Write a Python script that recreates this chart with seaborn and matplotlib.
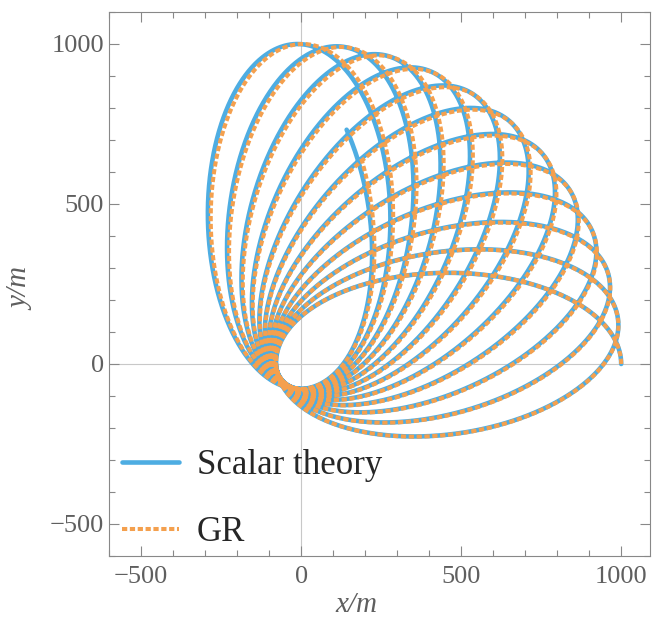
import numpy as np
import pandas as pd
import matplotlib
matplotlib.use("Agg")
import matplotlib.pyplot as plt
from matplotlib.ticker import MultipleLocator
import seaborn as sns

# orbit parameters
apo_radius = 1000.0          # m, start point (1000, 0)
peri_radius = 78.0           # m, size of the hole round the origin
precession_deg = {"Scalar theory": 8.25, "GR": 8.15}   # advance of the apoapsis per orbit
end_angle_deg = {"Scalar theory": 12 * 360 + 79.0, "GR": 12 * 360 + 73.6}

theories = ["Scalar theory", "GR"]
colors = {"Scalar theory": "#4EADE2", "GR": "#F4A04E"}

x_ticks = [-500, 0, 500, 1000]
y_ticks = [-500, 0, 500, 1000]


def orbit(name):
    p = 2 * apo_radius * peri_radius / (apo_radius + peri_radius)
    e = (apo_radius - peri_radius) / (apo_radius + peri_radius)
    k = 1.0 / (1.0 + precession_deg[name] / 360.0)
    phi = np.linspace(0, np.radians(end_angle_deg[name]), 30000)
    r = p / (1 - e * np.cos(k * phi))
    return pd.DataFrame({"x": r * np.cos(phi), "y": r * np.sin(phi), "theory": name})


sns.set_style("ticks")
plt.rcParams["font.family"] = ["Liberation Serif", "DejaVu Serif"]

fig = plt.figure(figsize=(6.52, 6.29), dpi=100)
ax = fig.add_axes([109 / 652, 1 - 556 / 629, 541 / 652, 544 / 629])

ax.axhline(0, color="#c8c8c8", lw=0.8, zorder=0)
ax.axvline(0, color="#c8c8c8", lw=0.8, zorder=0)

sns.lineplot(data=orbit("Scalar theory"), x="x", y="y", sort=False, estimator=None,
             color=colors["Scalar theory"], lw=3.3, ax=ax, label="Scalar theory")
sns.lineplot(data=orbit("GR"), x="x", y="y", sort=False, estimator=None,
             color=colors["GR"], lw=2.9, ax=ax, label="GR",
             linestyle=(0, (1.3, 0.65)))

ax.set_xlim(-600, 1090)
ax.set_ylim(-600, 1100)
ax.set_xticks(x_ticks)
ax.set_yticks(y_ticks)
ax.xaxis.set_minor_locator(MultipleLocator(100))
ax.yaxis.set_minor_locator(MultipleLocator(100))
ax.tick_params(which="both", direction="in", top=True, right=True, colors="#888888",
               labelcolor="#5f5f5f", labelsize=19, width=0.8)
ax.tick_params(which="major", length=7)
ax.tick_params(which="minor", length=4)
ax.tick_params(axis="x", pad=7)
for s in ax.spines.values():
    s.set_color("#888888")
    s.set_linewidth(0.8)

ax.set_xlabel("x/m", fontsize=21, color="#5f5f5f", fontstyle="italic")
ax.set_ylabel("y/m", fontsize=21, color="#5f5f5f", fontstyle="italic")
ax.xaxis.set_label_coords(0.458, -0.066)
ax.yaxis.set_label_coords(-0.137, 0.49)

ax.legend(loc="lower left", bbox_to_anchor=(0.024, 0.012), frameon=False, fontsize=25,
          handlelength=1.64, handletextpad=0.52, labelspacing=1.0, borderpad=0,
          borderaxespad=0)

fig.savefig("out.png", dpi=100)
